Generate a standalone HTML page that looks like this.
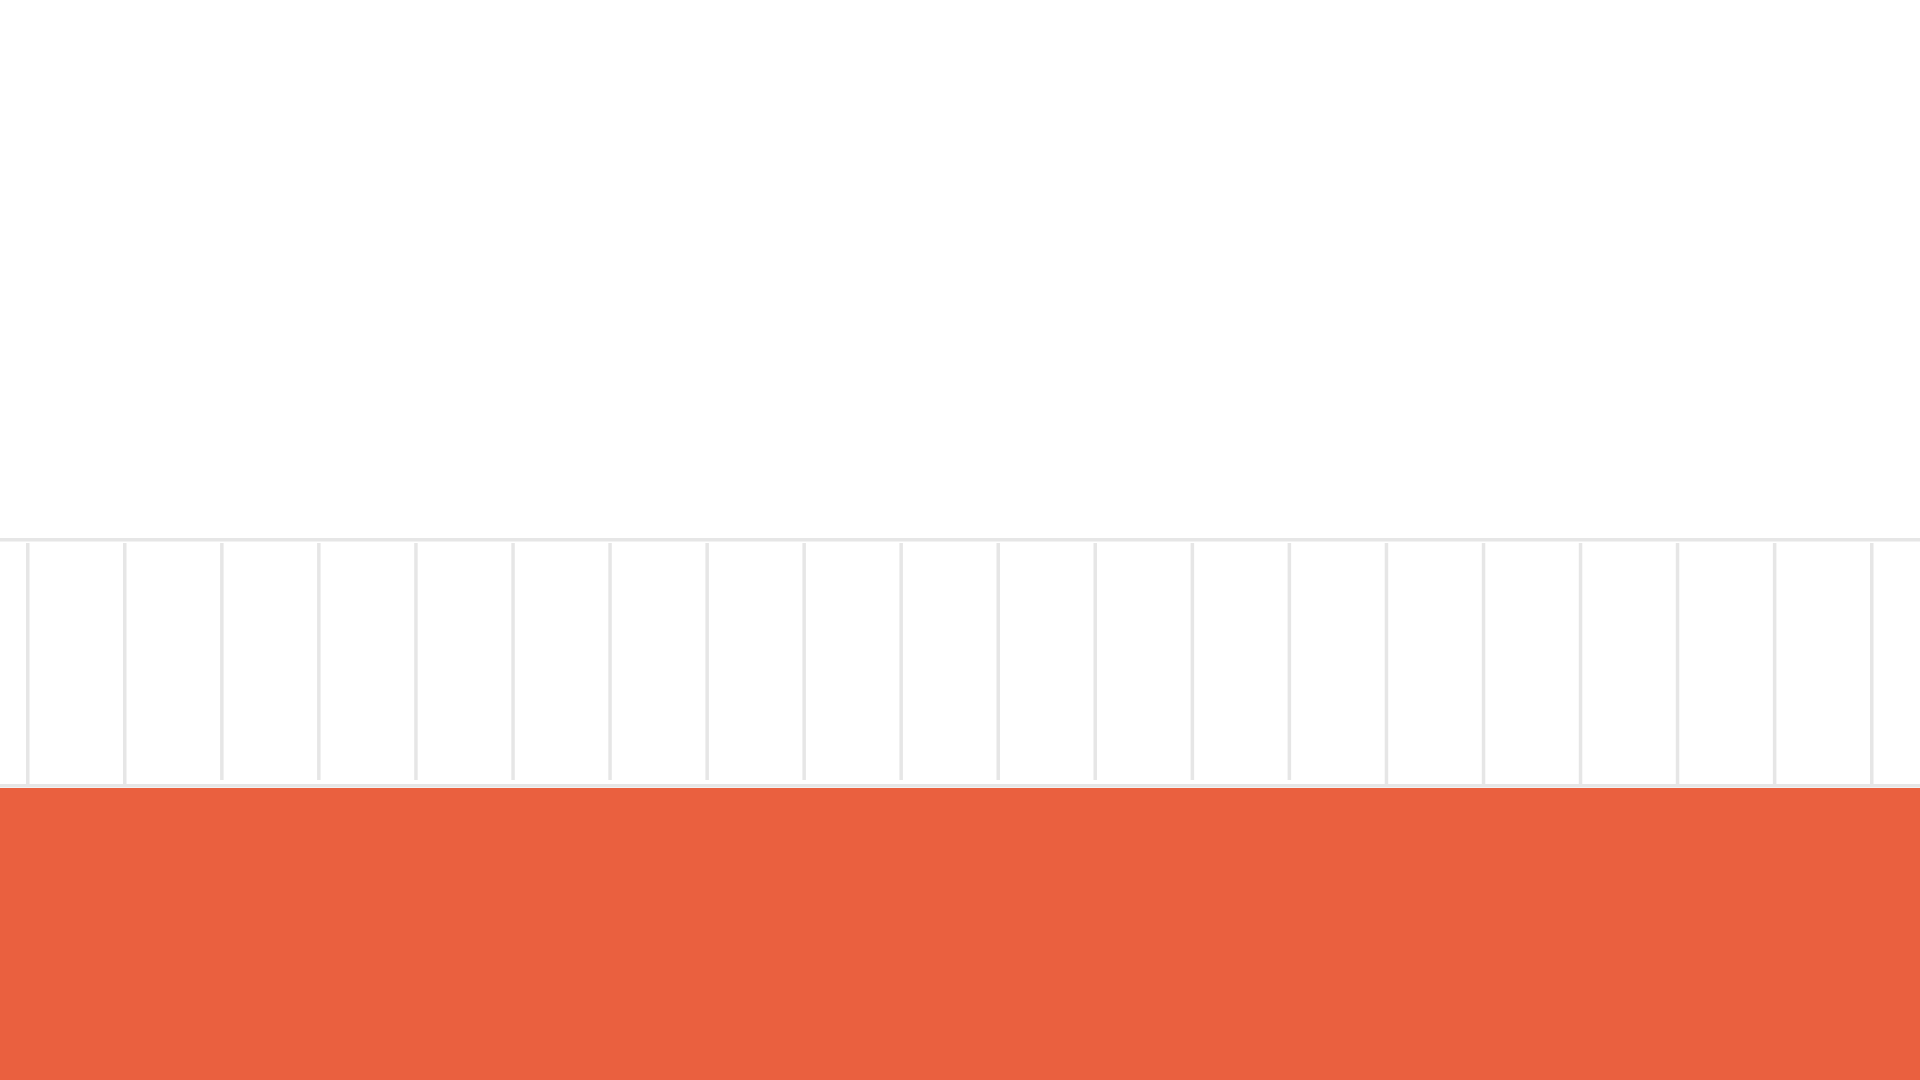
<!DOCTYPE html>
<html>
<head>
<meta charset="utf-8">
<style>
  html,body{margin:0;padding:0;background:#fff;width:1920px;height:1080px;overflow:hidden;}
  svg{display:block;}
</style>
</head>
<body>
<svg id="chart" width="1920" height="1080" viewBox="0 0 1920 1080" xmlns="http://www.w3.org/2000/svg">
  <rect x="0" y="0" width="1920" height="1080" fill="#ffffff"/>
  <rect x="0" y="538" width="1920" height="3.5" fill="#e6e6e6"/>
  <g id="ticks"></g>
  <rect x="0" y="784" width="1920" height="3.5" fill="#e6e6e6"/>
  <rect x="0" y="788" width="1920" height="292" fill="#ea603f"/>
</svg>
<script>
const tickIndex = [0,1,2,3,4,5,6,7,8,9,10,11,12,13,14,15,16,17,18,19];
const tickEnd = [784,784,780,780,780,780,780,780,780,780,780,780,780,780,784,784,784,784,784,784];

function xScale(i){ return 27 + i * 97.05; }

const g = document.getElementById('ticks');
tickIndex.forEach(function(t, k){
  const r = document.createElementNS('http://www.w3.org/2000/svg','rect');
  
  
  const x = xScale(t);
  r.setAttribute('x', (x - 1).toFixed(1));
  r.setAttribute('y', 543);
  r.setAttribute('width', 3.5);
  r.setAttribute('height', tickEnd[k] - 543);
  r.setAttribute('fill', '#e6e6e6');
  g.appendChild(r);
});
</script>
</body>
</html>
